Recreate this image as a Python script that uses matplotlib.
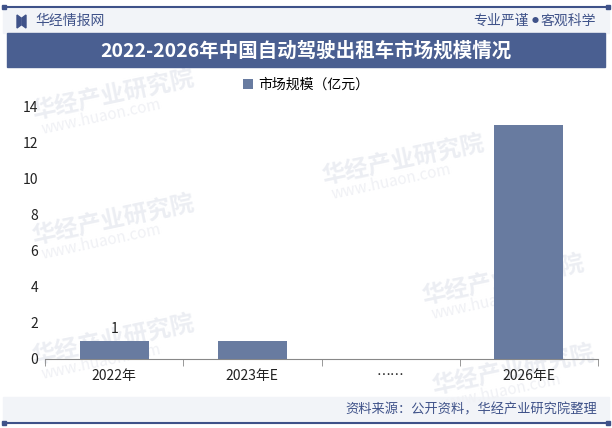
import numpy as np
import matplotlib.pyplot as plt
from matplotlib.patches import Rectangle, Polygon

plt.rcParams['font.family'] = ['Noto Sans CJK SC', 'DejaVu Sans']

categories = ['2022年', '2023年E', '……', '2026年E']
values = [1, 1, 0, 13]
labels = ['1', '', '', '']
yticks = [0, 2, 4, 6, 8, 10, 12, 14]

title = '2022-2026年中国自动驾驶出租车市场规模情况'
legend_name = '市场规模（亿元）'
source = '资料来源：公开资料，华经产业研究院整理'

navy = '#3f5289'
bar_color = '#687ba0'

fig = plt.figure(figsize=(6.12, 4.28), dpi=100)
W, H = 612, 428

def fx(x):
    return x / W

def fy(y):
    return 1 - y / H

# header band, title band, footer band
fig.patches.append(Rectangle((fx(3), fy(33)), fx(606), 26 / H, transform=fig.transFigure,
                             color='#f2f4f8', zorder=-3))
fig.patches.append(Rectangle((fx(7), fy(67)), fx(598), 34 / H, transform=fig.transFigure,
                             color='#4a5f91', zorder=1))
fig.patches.append(Rectangle((fx(3), fy(423)), fx(606), 26 / H, transform=fig.transFigure,
                             color='#f2f4f8', zorder=-3))
# top and bottom lines
for yy in (7, 423):
    fig.add_artist(plt.Line2D([fx(3), fx(609)], [fy(yy), fy(yy)], color=navy, lw=1.5,
                              transform=fig.transFigure))
    for xx in (4, 608):
        fig.patches.append(Rectangle((fx(xx - 2), fy(yy + 2)), 4 / W, 4 / H,
                                     transform=fig.transFigure, color=navy))

# logo
fig.patches.append(Polygon([[fx(17), fy(15)], [fx(21), fy(18)], [fx(21), fy(25)], [fx(17), fy(28)]],
                           closed=True, transform=fig.transFigure, color=navy))
fig.patches.append(Polygon([[fx(26), fy(15)], [fx(22), fy(18)], [fx(22), fy(25)], [fx(26), fy(28)]],
                           closed=True, transform=fig.transFigure, color=navy))
fig.text(fx(35), fy(21), '华经情报网', color=navy, fontsize=10, va='center', ha='left')
fig.text(fx(596), fy(21), '客观科学', color=navy, fontsize=10, va='center', ha='right')
fig.text(fx(535), fy(21), '●', color=navy, fontsize=5, va='center', ha='center')
fig.text(fx(529), fy(21), '专业严谨', color=navy, fontsize=10, va='center', ha='right')
fig.text(0.5, fy(51), title, color='white', fontsize=14, fontweight='bold', va='center', ha='center')
fig.text(fx(597), fy(410), source, color=navy, fontsize=9.5, va='center', ha='right')

# faint watermarks behind the plot
for (wx, wy) in [(30, 95), (30, 220), (30, 340), (320, 160), (420, 280), (430, 370)]:
    fig.text(fx(wx), fy(wy), '华经产业研究院', color='#eceef3', fontsize=17, fontweight='bold',
             rotation=12, ha='left', va='center', zorder=-2)
    fig.text(fx(wx + 10), fy(wy + 22), 'www.huaon.com', color='#f0f1f5', fontsize=11,
             rotation=12, ha='left', va='center', zorder=-2)

ax = fig.add_axes([fx(45), fy(359), (598 - 45) / W, (359 - 107) / H])
ax.patch.set_alpha(0)
x = np.arange(len(categories))
bars = ax.bar(x, values, width=0.5, color=bar_color, label=legend_name, zorder=3)
for xi, v, lab in zip(x, values, labels):
    if lab:
        ax.text(xi, v + 0.3, lab, ha='center', va='bottom', fontsize=10, color='#222222')

ax.set_xlim(-0.5, len(categories) - 0.5)
ax.set_ylim(0, 14)
ax.set_yticks(yticks)
ax.set_xticks(x)
ax.set_xticklabels(categories, fontsize=10)
ax.set_xticks(np.arange(len(categories) + 1) - 0.5, minor=True)
ax.tick_params(axis='x', which='major', length=0, pad=7, colors='#222222')
ax.tick_params(axis='x', which='minor', length=5, color='#888888', direction='out')
ax.tick_params(axis='y', length=0, labelsize=10, colors='#222222', pad=5)
for s in ['top', 'right', 'left']:
    ax.spines[s].set_visible(False)
ax.spines['bottom'].set_color('#888888')

fig.legend(loc='center', bbox_to_anchor=(0.5, fy(85)), frameon=False, fontsize=10,
           handlelength=0.7, handleheight=0.7, handletextpad=0.4)

fig.savefig('out.png', dpi=100)
